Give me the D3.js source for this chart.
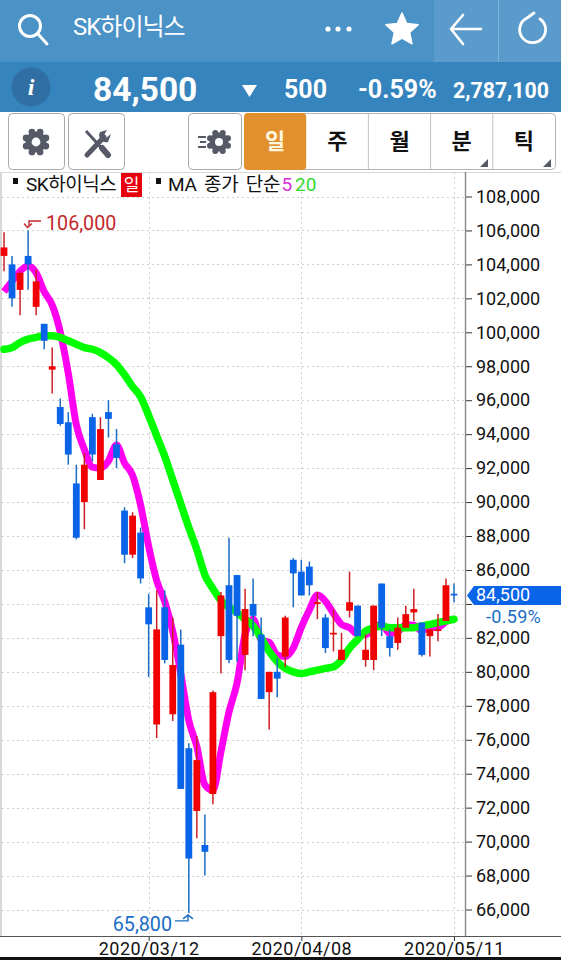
<!DOCTYPE html>
<html>
<head>
<meta charset="utf-8">
<script src="https://cdn.jsdelivr.net/npm/d3@7"></script>
<style>
  html, body { margin: 0; padding: 0; background: #fff; overflow: hidden; }
  svg { display: block; font-family: Roboto, "Noto Sans CJK KR", sans-serif; }
</style>
</head>
<body>
<div id="chart"></div>
<script>
const dates = ['02/17','02/18','02/19','02/20','02/21','02/24','02/25','02/26','02/27','02/28',
  '03/02','03/03','03/04','03/05','03/06','03/09','03/10','03/11','03/12','03/13',
  '03/16','03/17','03/18','03/19','03/20','03/23','03/24','03/25','03/26','03/27',
  '03/30','03/31','04/01','04/02','04/03','04/06','04/07','04/08','04/09','04/10',
  '04/13','04/14','04/16','04/17','04/20','04/21','04/22','04/23','04/24','04/27',
  '04/28','04/29','05/04','05/06','05/07','05/08','05/11']

const opens = [104500,104000,102500,104500,101500,100500,97800,95600,94700,91100,
  90000,95000,91300,95300,93400,89500,86900,88200,83800,76900,
  83800,77500,81600,75500,71800,69800,72800,82100,85100,85700,
  81000,84000,82200,78800,80000,80900,86600,85900,86200,84000,
  83200,82200,80700,83600,83900,80700,80700,85200,82100,81700,
  82600,83500,82900,82100,82400,83000,84600]
const highs = [105900,104500,103600,106000,103700,100500,99100,96100,95300,92200,
  92900,95200,95000,96000,94300,89700,89400,88500,84600,84800,
  84800,83200,82500,75800,76200,71600,78900,84700,87900,85700,
  84900,85500,83200,80000,80800,83300,86700,86600,86500,84700,
  83400,83700,82300,85900,83900,82200,83900,85200,82500,83200,
  83900,84900,82900,82500,83400,85500,85200]
const lows = [103600,101500,101000,102500,101000,99000,96400,94500,92200,87800,
  88400,92400,91300,93800,92000,86400,86700,85200,79700,76100,
  80500,77100,73100,65800,70200,68000,72200,79900,80500,80600,
  80100,82100,78400,76600,78500,80300,83800,84500,84500,83100,
  81100,81200,80700,83200,82100,80300,80100,82100,80900,81300,
  82600,83000,80900,80900,81800,83000,84100]
const closes = [105000,102000,103500,104000,103000,99500,98000,94600,92800,87900,
  92200,92800,94300,94900,92600,86900,89200,85500,82800,82500,
  80700,80400,73100,69000,74800,69400,78800,84500,80700,83300,
  83700,83300,78400,80000,79600,83200,85800,84500,85100,84100,
  81400,82300,81300,84100,82100,81300,83900,82600,81400,82600,
  83400,83700,81000,82500,82500,85100,84500]
const ma5 = [102400,103000,103600,103900,103500,102400,101600,100020,97580,94560,
  93100,92060,92000,92420,93360,92300,91580,89820,87400,85380,
  84140,82380,79900,77140,75600,73340,73020,75300,77640,79340,
  82200,83100,81880,81740,81000,80900,81400,82620,83640,84520,
  84160,83440,82800,82600,82220,82200,82540,82820,82260,82360,
  82780,82740,82420,82640,82620,82960,83120]
const ma20 = [99000,99100,99400,99600,99700,99800,99800,99700,99500,99300,
  99100,99000,98800,98500,98100,97500,96800,96200,95100,93900,
  92700,91300,89900,88500,87200,85700,84900,84200,83800,83500,
  83100,82700,82000,81200,80600,80200,80000,79900,80000,80100,
  80200,80300,80700,81400,81900,82400,82600,82700,82600,82600,
  82600,82600,82700,82800,82900,83000,83100]

const yTicks = [66000,68000,70000,72000,74000,76000,78000,80000,82000,84000,86000,
  88000,90000,92000,94000,96000,98000,100000,102000,104000,106000,108000]
const xTicks = ['03/12', '04/08', '05/11']
const tabs = ['일', '주', '월', '분', '틱']

const chartWidth = 561
const chartHeight = 960
const axisX = 465
const axisY = 936

const svg = d3.select('#chart').append('svg')
  .attr('width', chartWidth)
  .attr('height', chartHeight)

const x = d3.scalePoint().domain(dates).range([4, 454])
const y = d3.scaleLinear().domain([66000, 108000]).range([909.5, 196.5])
const fmt = d3.format(',')
const xi = i => x(dates[i])

// top bars
svg.append('rect').attr('width', chartWidth).attr('height', 62).attr('fill', '#4b92c6')
svg.append('rect').attr('x', 434).attr('width', 127).attr('height', 62).attr('fill', '#5a9bcb')
svg.append('rect').attr('x', 498).attr('width', 1).attr('height', 62).attr('fill', '#7fb2d8')
svg.append('rect').attr('y', 62).attr('width', chartWidth).attr('height', 50).attr('fill', '#3584bd')

// search icon etc
const topIcons = svg.append('g').attr('fill', 'none').attr('stroke', '#fff').attr('stroke-width', 3)
topIcons.append('circle').attr('cx', 30).attr('cy', 26).attr('r', 10.5)
topIcons.append('path').attr('d', 'M38 34L47 44').attr('stroke-linecap', 'round')
topIcons.append('path').attr('d', 'M463 15L451 29L463 44M451 29H481').attr('stroke-linecap', 'round').attr('stroke-linejoin', 'round').attr('stroke-width', 2.6)
topIcons.append('path').attr('d', 'M527 18A13 13 0 1 0 540 19M527 18L534 13').attr('stroke-linecap', 'round').attr('stroke-width', 2.8)

svg.append('text').attr('x', 73).attr('y', 35).attr('fill', '#fff')
  .attr('font-size', 24).attr('letter-spacing', -1).text('SK하이닉스')

svg.append('g').selectAll('circle').data([328, 338, 349]).enter().append('circle')
  .attr('cx', d => d).attr('cy', 29).attr('r', 2.6).attr('fill', '#fff')

const starLine = d3.lineRadial().angle((d, i) => i * Math.PI / 5).radius(d => d).curve(d3.curveLinearClosed)
svg.append('path')
  .attr('transform', 'translate(402,30)')
  .attr('d', starLine([17, 8, 17, 8, 17, 8, 17, 8, 17, 8]))
  .attr('fill', '#fff').attr('stroke', '#fff').attr('stroke-width', 1.5).attr('stroke-linejoin', 'round')

// price row
svg.append('circle').attr('cx', 31).attr('cy', 87).attr('r', 19.5).attr('fill', '#2f6fa3')
svg.append('text').attr('x', 31).attr('y', 95).attr('text-anchor', 'middle').attr('fill', '#fff')
  .attr('font-family', '"Liberation Serif", serif').attr('font-style', 'italic').attr('font-weight', 700)
  .attr('font-size', 24).text('i')

const priceRow = [
  { t: '84,500', x: 93, size: 33.5 },
  { t: '500', x: 284, size: 25 },
  { t: '-0.59%', x: 358, size: 25 },
  { t: '2,787,100', x: 453, size: 21.3 }
]
svg.append('g').selectAll('text').data(priceRow).enter().append('text')
  .attr('x', d => d.x)
  .attr('y', d => d.size > 30 ? 101 : 98)
  .attr('font-size', d => d.size).attr('font-weight', 700).attr('fill', '#fff')
  .text(d => d.t)
svg.append('path').attr('d', 'M242 85H257L249.500 97Z').attr('fill', '#fff')

// toolbar
const toolbar = svg.append('g')
;[[8, 56], [68, 56], [188, 53]].forEach(b => {
  toolbar.append('rect').attr('x', b[0] + 0.5).attr('y', 113.5).attr('width', b[1]).attr('height', 56)
    .attr('rx', 4).attr('fill', '#fff').attr('stroke', '#a9a9a9')
})
toolbar.append('rect').attr('x', 244.500).attr('y', 113.5).attr('width', 311).attr('height', 56)
  .attr('rx', 4).attr('fill', '#fff').attr('stroke', '#b5b5b5')

function gear(cx, cy, r) {
  const g = toolbar.append('g').attr('transform', `translate(${cx},${cy})`)
  g.append('circle').attr('r', r).attr('fill', '#555a66')
  g.selectAll('circle.tooth').data(d3.range(8)).enter().append('circle').attr('class', 'tooth')
    .attr('r', r * 0.32).attr('fill', '#555a66')
    .attr('cx', d => Math.cos(d * Math.PI / 4 + Math.PI / 8) * r * 1.02)
    .attr('cy', d => Math.sin(d * Math.PI / 4 + Math.PI / 8) * r * 1.02)
  g.append('circle').attr('r', r * 0.42).attr('fill', '#fff')
}
gear(36, 142, 10.5)
gear(219, 142, 9.5)
toolbar.append('path').attr('d', 'M198 137H206M200 142H206M198 147H206')
  .attr('stroke', '#555a66').attr('stroke-width', 2.2).attr('fill', 'none')
// wrench + screwdriver
toolbar.append('path').attr('d', 'M86 131L107 154').attr('stroke', '#555a66').attr('stroke-width', 3)
toolbar.append('path').attr('d', 'M102 148L108 155').attr('stroke', '#555a66').attr('stroke-width', 6).attr('stroke-linecap', 'round')
toolbar.append('path').attr('d', 'M87 155L104 137').attr('stroke', '#555a66').attr('stroke-width', 5).attr('stroke-linecap', 'round')
toolbar.append('path').attr('d', 'M100 132A7 7 0 0 0 108 142L111 134L106 138L104 135L107 130Z').attr('fill', '#555a66')

const tabW = 62.2
toolbar.append('rect').attr('x', 244).attr('y', 113).attr('width', tabW).attr('height', 57)
  .attr('rx', 4).attr('fill', '#e28f2d')
toolbar.selectAll('line.sep').data([2, 3, 4]).enter().append('line').attr('class', 'sep')
  .attr('x1', d => 244 + d * tabW).attr('x2', d => 244 + d * tabW)
  .attr('y1', 114).attr('y2', 169).attr('stroke', '#c4c4c4')
toolbar.selectAll('text.tab').data(tabs).enter().append('text').attr('class', 'tab')
  .attr('x', (d, i) => 244 + (i + 0.5) * tabW).attr('y', 149)
  .attr('text-anchor', 'middle').attr('font-size', 22).attr('font-weight', 700)
  .attr('fill', (d, i) => i === 0 ? '#fff6df' : '#111')
  .text(d => d)
;[488, 551].forEach(r => {
  toolbar.append('path').attr('d', `M${r} 159V167H${r - 8}Z`).attr('fill', '#555a66')
})

// chart frame
svg.append('rect').attr('x', 0).attr('y', 172).attr('width', 2).attr('height', 764).attr('fill', '#d8d8d8')
svg.append('line').attr('x1', 0).attr('x2', chartWidth).attr('y1', 172.5).attr('y2', 172.5).attr('stroke', '#d8d8d8')

// grid
svg.append('g').selectAll('line').data(yTicks).enter().append('line')
  .attr('x1', 2).attr('x2', axisX)
  .attr('y1', d => Math.round(y(d)) + 0.5).attr('y2', d => Math.round(y(d)) + 0.5)
  .attr('stroke', '#cfcfcf').attr('stroke-dasharray', '2,3')
svg.append('g').selectAll('line').data(xTicks).enter().append('line')
  .attr('x1', d => Math.round(x(d)) + 0.5).attr('x2', d => Math.round(x(d)) + 0.5)
  .attr('y1', 172).attr('y2', axisY)
  .attr('stroke', '#cfcfcf').attr('stroke-dasharray', '2,3')

// moving averages
const line = d3.line().x((d, i) => xi(i)).y(d => y(d)).curve(d3.curveMonotoneX)
svg.append('path').datum(ma5).attr('class', 'ma5').attr('d', line)
  .attr('fill', 'none').attr('stroke', '#ff00f0').attr('stroke-width', 7).attr('stroke-linejoin', 'round')
svg.append('path').datum(ma20).attr('class', 'ma20').attr('d', line)
  .attr('fill', 'none').attr('stroke', '#00ff00').attr('stroke-width', 7.5).attr('stroke-linejoin', 'round').attr('stroke-linecap', 'round')

// candles
const up = i => closes[i] >= opens[i]
const candles = svg.append('g').selectAll('g').data(dates).enter().append('g')
candles.append('line')
  .attr('x1', (d, i) => xi(i)).attr('x2', (d, i) => xi(i))
  .attr('y1', (d, i) => y(highs[i])).attr('y2', (d, i) => y(lows[i]))
  .attr('stroke', (d, i) => up(i) ? '#cc1f24' : '#1a6cc4').attr('stroke-width', 1.5)
candles.append('rect')
  .attr('x', (d, i) => xi(i) - 3.4).attr('width', 6.8)
  .attr('y', (d, i) => y(Math.max(opens[i], closes[i])))
  .attr('height', (d, i) => Math.max(1.5, Math.abs(y(opens[i]) - y(closes[i]))))
  .attr('fill', (d, i) => up(i) ? '#f00000' : '#0a64e8')

// y axis, the 84,000 label is hidden by the last price tag in the app
const yAxis = d3.axisRight(y).tickValues(yTicks).tickFormat(d => d === 84000 ? '' : fmt(d)).tickSize(7).tickPadding(4)
const yG = svg.append('g').attr('transform', `translate(${axisX},0)`).call(yAxis)
yG.select('.domain').remove()
yG.selectAll('.tick text').attr('font-size', 18).attr('font-family', 'Roboto').attr('fill', '#111')
yG.selectAll('.tick line').attr('stroke', '#333')
svg.append('line').attr('x1', axisX + 0.5).attr('x2', axisX + 0.5).attr('y1', 172).attr('y2', axisY)
  .attr('stroke', '#8a8a8a').attr('stroke-width', 1.4)

// x axis
const xAxis = d3.axisBottom(x).tickValues(xTicks).tickFormat(d => '2020/' + d).tickSize(5).tickPadding(1)
const xG = svg.append('g').attr('transform', `translate(0,${axisY})`).call(xAxis)
xG.select('.domain').remove()
xG.selectAll('.tick text').attr('font-size', 18).attr('font-family', 'Roboto').attr('fill', '#111').attr('letter-spacing', 0.5)
xG.selectAll('.tick line').attr('stroke', '#333')
svg.append('line').attr('x1', 0).attr('x2', chartWidth).attr('y1', axisY + 0.5).attr('y2', axisY + 0.5).attr('stroke', '#555')
svg.append('rect').attr('y', 957).attr('width', chartWidth).attr('height', 3).attr('fill', '#111')

// high / low labels
const hiY = y(106000)
svg.append('text').attr('x', 46).attr('y', hiY).attr('font-size', 19.7).attr('fill', '#c4282c').text(fmt(106000))
svg.append('path').attr('d', `M41 ${hiY - 9.5}H29V${hiY - 4}M24 ${hiY - 7}L27.500 ${hiY - 3}L32 ${hiY - 7}`)
  .attr('fill', 'none').attr('stroke', '#c4282c').attr('stroke-width', 1.4)

const loY = y(65800)
svg.append('text').attr('x', 172).attr('y', loY + 18).attr('text-anchor', 'end')
  .attr('font-size', 19.7).attr('fill', '#1a6cc4').text(fmt(65800))
svg.append('path').attr('d', `M175 ${loY + 8}H188V${loY + 2}M183 ${loY + 6}L188 ${loY + 2}L193 ${loY + 6}`)
  .attr('fill', 'none').attr('stroke', '#1a6cc4').attr('stroke-width', 1.4)

// last price tag
const lastY = y(closes[closes.length - 1])
svg.append('path')
  .attr('d', `M467 ${lastY}L474 ${lastY - 9.5}H561V${lastY + 9.5}H474Z`)
  .attr('fill', '#0a64e8')
svg.append('text').attr('x', 476).attr('y', lastY + 6).attr('font-size', 18).attr('fill', '#fff').text(fmt(closes[closes.length - 1]))
svg.append('text').attr('x', 486).attr('y', lastY + 28).attr('font-size', 18).attr('letter-spacing', 0.3).attr('fill', '#1a6cc4').text('-0.59%')

// legend
const legend = svg.append('g')
legend.append('rect').attr('x', 13).attr('y', 178).attr('width', 5).attr('height', 6).attr('fill', '#111')
legend.append('text').attr('x', 26).attr('y', 191).attr('font-size', 19).attr('letter-spacing', -0.5).attr('fill', '#111').text('SK하이닉스')
legend.append('rect').attr('x', 121).attr('y', 173).attr('width', 21).attr('height', 24).attr('fill', '#e8000f')
legend.append('text').attr('x', 131.500).attr('y', 191).attr('text-anchor', 'middle').attr('font-size', 17).attr('fill', '#fff').text('일')
legend.append('rect').attr('x', 156).attr('y', 178).attr('width', 5).attr('height', 6).attr('fill', '#111')
legend.append('text').attr('x', 168).attr('y', 191).attr('font-size', 19).attr('word-spacing', 3).attr('letter-spacing', -0.3).attr('fill', '#111').text('MA 종가 단순')
legend.append('text').attr('x', 281.500).attr('y', 191).attr('font-size', 19).attr('fill', '#d42fd4').text('5')
legend.append('text').attr('x', 295).attr('y', 191).attr('font-size', 19).attr('fill', '#33d933').text('20')
</script>
</body>
</html>
